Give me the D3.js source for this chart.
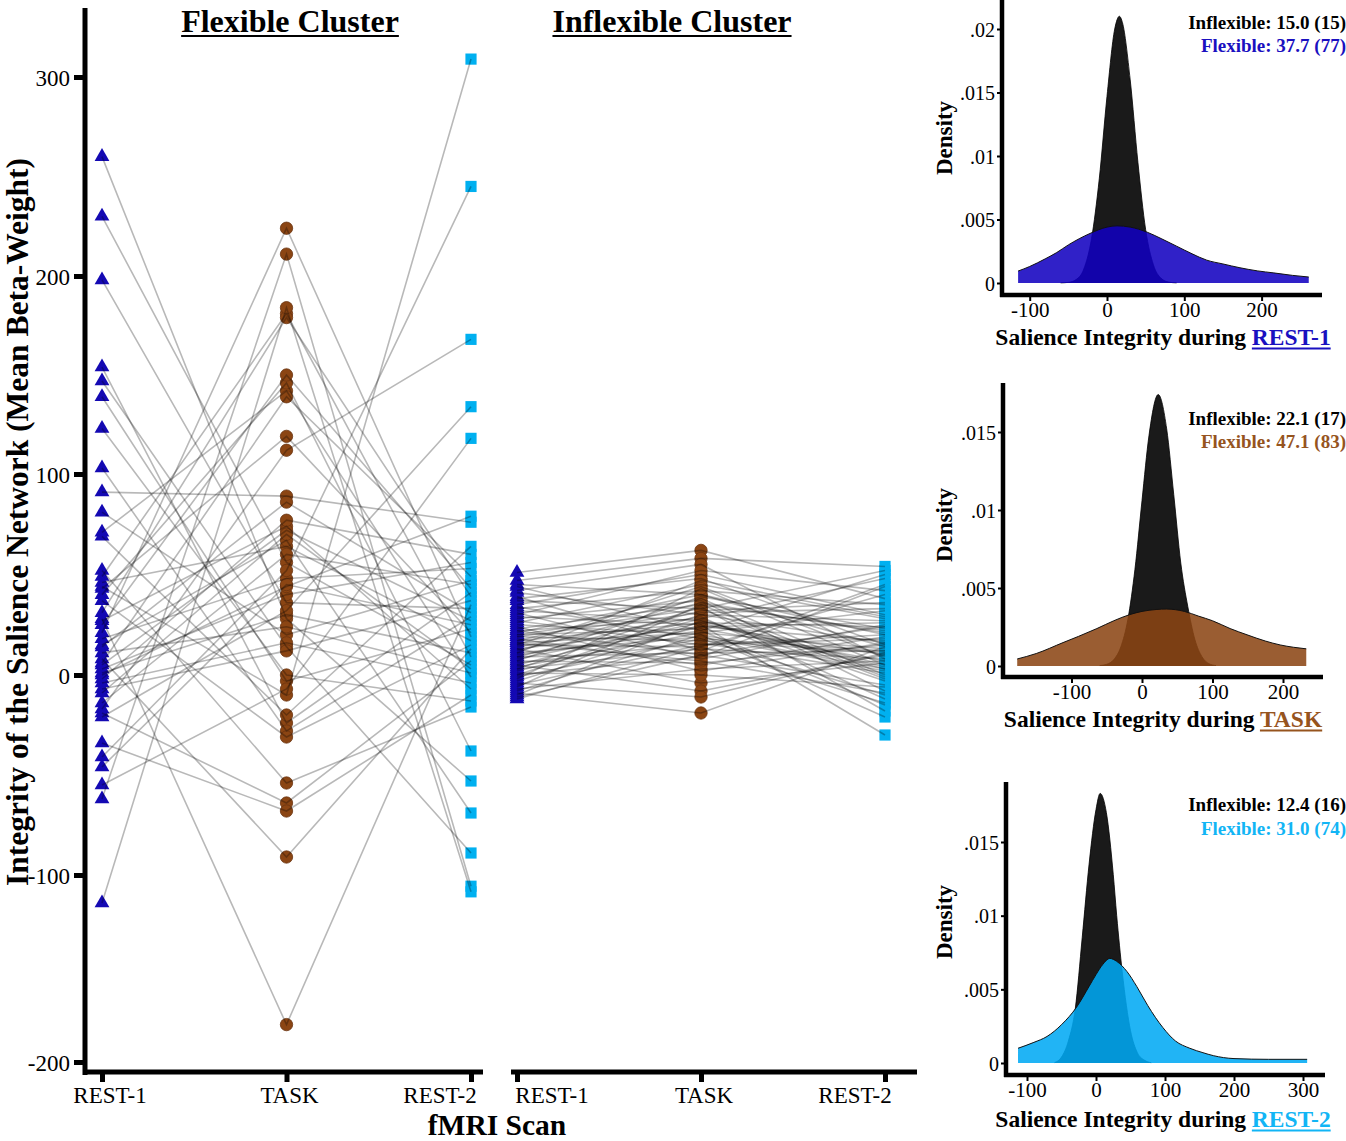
<!DOCTYPE html>
<html><head><meta charset="utf-8">
<script src="https://cdn.jsdelivr.net/npm/d3@7"></script>
<style>
body{margin:0;background:#fff;}
svg{display:block;font-family:"Liberation Serif","Times New Roman",serif;}
</style></head><body>
<svg id="chart" width="1346" height="1141"></svg>
<script>
// ---------------- DATA ----------------
const scans = ["REST-1", "TASK", "REST-2"];
const yTicks = [-200, -100, 0, 100, 200, 300];
const clusterTitles = ["Flexible Cluster", "Inflexible Cluster"];

// Flexible cluster, one entry per subject
const flexRest1 = [260,230,198,154,147,139,123,103,91,81,71,69,52,49,46,44,43,40,37,31,28,27,25,21,18,15,14,11,8,6,5,3,1,0,-2,-4,-7,-9,-14,-17,-19,-21,-34,-41,-46,-55,-62,-115];
const flexTask  = [28,56,36,-24,14,-3,0,-28,89,20,142,-20,-54,181,64,-10,119,146,-31,179,-180,74,150,224,48,67,86,24,-91,139,72,40,30,44,77,16,12,70,60,112,-64,32,-68,52,45,-7,211,184];
const flexRest2 = [-53,5,33,41,-89,23,-13,29,76,47,-1,64,-16,9,17,309,21,-38,15,39,35,-7,43,19,53,-69,31,1,13,49,27,56,11,79,60,-4,37,3,45,168,7,134,-10,245,25,118,-106,-109];

// Inflexible cluster, one entry per subject
const inflexRest1 = [51,47,45,44,42,41,39,38,37,35,34,33,32,31,30,29,28,27,26,25,24,23,22,22,21,20,19,19,18,17,17,16,15,15,14,13,13,12,11,11,10,9,9,8,7,7,6,5,5,4,3,3,2,1,0,0,-1,-2,-3,-4,-5,-6,-7,-8,-9,-10,-11,-12,20,16];
const inflexTask  = [62,58,40,22,55,30,12,48,33,50,18,42,27,8,52,25,37,15,45,20,2,35,28,10,40,23,31,17,5,38,26,21,44,14,29,24,-4,36,19,47,22,11,32,26,6,39,16,28,-8,21,34,13,24,0,30,9,18,43,25,-11,15,35,3,20,-19,27,10,14,33,7];
const inflexRest2 = [38,54,20,50,8,27,45,15,-2,30,12,35,5,25,42,10,-8,18,28,3,16,22,48,-5,14,7,33,11,19,0,24,13,9,40,-12,17,6,21,2,29,-15,12,36,4,15,23,1,-3,10,32,-18,8,26,-6,16,44,-10,5,-30,11,20,-1,7,-21,14,3,24,-14,52,-9];

// Density panels (x value, density)
const densXTicks = [[-100,0,100,200],[-100,0,100,200],[-100,0,100,200,300]];
const densYTicks = [[0,0.005,0.01,0.015,0.02],[0,0.005,0.01,0.015],[0,0.005,0.01,0.015]];
const densFlexX = [
  [-115,-100,-80,-65,-50,-22,0,13,30,52,70,90,110,129,150,172,195,215,240,261],
  [-177,-150,-112,-90,-64,-40,-17,0,20,35,60,80,100,125,149,175,196,215,233],
  [-113,-90,-71,-50,-28,-10,0,10,20,30,45,59,75,97,115,136,155,170,200,250,306]
];
const densFlexY = [
  [0.00094,0.0013,0.0019,0.0024,0.003,0.0039,0.0044,0.0045,0.0044,0.0040,0.0035,0.0029,0.0023,0.0018,0.0015,0.0012,0.00095,0.0008,0.0006,0.00047],
  [0.00045,0.0008,0.0015,0.0019,0.0024,0.0029,0.0033,0.0035,0.00362,0.00365,0.0035,0.0032,0.0029,0.0024,0.0020,0.0016,0.00135,0.0012,0.0011],
  [0.001,0.0014,0.0018,0.0026,0.0038,0.0052,0.006,0.0067,0.0071,0.0069,0.0062,0.0052,0.0039,0.0024,0.0015,0.001,0.0007,0.0005,0.0003,0.00025,0.00025]
];
const densInfX = [
  [-60,-50,-40,-30,-20,-10,0,10,16,20,30,40,50,60,70,80,90],
  [-60,-50,-40,-30,-20,-10,0,10,23,35,45,55,65,75,85,95,105],
  [-60,-50,-40,-30,-20,-10,0,6,15,25,30,38,50,60,70,80]
];
const densInfY = [
  [0.00001,0.00005,0.00027,0.0011,0.0035,0.0082,0.0147,0.0200,0.0210,0.0205,0.0160,0.0095,0.0042,0.00144,0.00037,0.00007,0.00001],
  [0.00003,0.00011,0.00041,0.00123,0.0030,0.0062,0.0106,0.0148,0.0174,0.0152,0.0110,0.0066,0.0038,0.0017,0.0006,0.00015,0.00003],
  [0.00003,0.0004,0.0015,0.0037,0.0085,0.0135,0.0172,0.0183,0.0170,0.0128,0.0100,0.0062,0.0022,0.0007,0.0002,0.00002]
];
const infMeans = [15.0, 22.1, 12.4];
const infSDs = [15, 17, 16];
const flexMeans = [37.7, 47.1, 31.0];
const flexSDs = [77, 83, 74];

// ---------------- STYLE ----------------
const pointColors = ["#1409b3", "#8B4513", "#00B0F0"];
const densColors = ["#1100c0", "#8B4513", "#00A9F4"];
const labelColors = ["#1a10c0", "#96541e", "#12b5f5"];

const svg = d3.select("#chart");
const serif = '"Liberation Serif","Times New Roman",serif';
const hyphenFmt = d => String(d);

// ---------------- MAIN PANELS ----------------
const y = d3.scaleLinear().domain(yTicks).range([1062, 875, 675, 474, 276, 77]);
const xFlex = d3.scalePoint().domain(scans).range([102, 471]);
const xInf = d3.scalePoint().domain(scans).range([517, 885]);

const symbols = [
  d3.symbol(d3.symbolTriangle, 95),
  d3.symbol(d3.symbolCircle, 120),
  d3.symbol(d3.symbolSquare, 125)
];

function drawPanel(x, cols) {
  const g = svg.append("g");
  cols.forEach((col, j) => {
    g.append("g").selectAll("path").data(col).join("path")
      .attr("transform", v => `translate(${x(scans[j])},${y(v)})`)
      .attr("d", symbols[j]())
      .attr("fill", pointColors[j])
      .attr("stroke", j === 1 ? "#6a3410" : "none")
      .attr("stroke-width", 0.8);
  });
  const subjects = d3.range(cols[0].length).map(i => cols.map((c, j) => ({scan: scans[j], v: c[i]})));
  const line = d3.line().x(d => x(d.scan)).y(d => y(d.v));
  g.append("g").selectAll("path").data(subjects).join("path")
    .attr("d", line)
    .attr("fill", "none")
    .attr("stroke", "#000")
    .attr("stroke-opacity", 0.28)
    .attr("stroke-width", 1.6);
}
drawPanel(xFlex, [flexRest1, flexTask, flexRest2]);
drawPanel(xInf, [inflexRest1, inflexTask, inflexRest2]);

// y axis (left panel)
const yAxis = svg.append("g").attr("transform", "translate(85,0)")
  .call(d3.axisLeft(y).tickValues(yTicks).tickSize(11).tickPadding(4).tickFormat(hyphenFmt));
yAxis.select(".domain").remove();
yAxis.selectAll(".tick line").attr("stroke", "#000").attr("stroke-width", 5);
yAxis.selectAll(".tick text").attr("font-family", serif).attr("font-size", 23).attr("fill", "#000").attr("dy", "0.36em");
svg.append("line").attr("x1", 85).attr("x2", 85).attr("y1", 8).attr("y2", 1075).attr("stroke", "#000").attr("stroke-width", 5);

// x axes
const xLabelOffsets = [[8, 3, -31], [35, 3, -30]];
[[xFlex, 83, 483], [xInf, 511, 917]].forEach(([x, x0, x1], p) => {
  const ax = svg.append("g").attr("transform", "translate(0,1072)")
    .call(d3.axisBottom(x).tickSize(10).tickFormat(""));
  ax.select(".domain").remove();
  ax.selectAll(".tick line").attr("stroke", "#000").attr("stroke-width", 5);
  svg.append("line").attr("x1", x0).attr("x2", x1).attr("y1", 1072).attr("y2", 1072).attr("stroke", "#000").attr("stroke-width", 5);
  svg.append("g").selectAll("text").data(scans).join("text")
    .attr("x", (d, i) => x(d) + xLabelOffsets[p][i])
    .attr("y", 1103)
    .attr("text-anchor", "middle")
    .attr("font-family", serif).attr("font-size", 23)
    .text(d => d);
});

// cluster titles (underlined)
function underlinedText(x, yPos, txt, size, anchor) {
  const t = svg.append("text").attr("x", x).attr("y", yPos)
    .attr("text-anchor", anchor).attr("font-family", serif)
    .attr("font-weight", "bold").attr("font-size", size).text(txt);
  const w = t.node().getComputedTextLength();
  const xs = anchor === "middle" ? x - w / 2 : x;
  svg.append("line").attr("x1", xs).attr("x2", xs + w).attr("y1", yPos + 4).attr("y2", yPos + 4)
    .attr("stroke", "#000").attr("stroke-width", 2.2);
}
underlinedText(290, 32, clusterTitles[0], 32, "middle");
underlinedText(672, 32, clusterTitles[1], 32, "middle");

// axis titles
svg.append("text").attr("transform", "translate(28,522) rotate(-90)")
  .attr("text-anchor", "middle").attr("font-family", serif).attr("font-weight", "bold").attr("font-size", 31.5)
  .text("Integrity of the Salience Network (Mean Beta-Weight)");
svg.append("text").attr("x", 497).attr("y", 1135)
  .attr("text-anchor", "middle").attr("font-family", serif).attr("font-weight", "bold").attr("font-size", 29.5)
  .text("fMRI Scan");

// ---------------- DENSITY PANELS ----------------
const densLayout = [
  {xd: [-100, 200], xr: [1029.7, 1261.6], yd: [0, 0.02], yr: [283, 29], ax: 1002, top: 0, bot: 295, right: 1322, stat: [29, 52], title: 345, dens: 138},
  {xd: [-100, 200], xr: [1071.5, 1283], yd: [0, 0.015], yr: [666, 432], ax: 1003, top: 383, bot: 677, right: 1323, stat: [425, 448], title: 727, dens: 525},
  {xd: [-100, 300], xr: [1027, 1303], yd: [0, 0.015], yr: [1063, 842], ax: 1006, top: 782, bot: 1075, right: 1325, stat: [811, 835], title: 1127, dens: 922}
];
const fmtDens = v => v === 0 ? "0" : d3.format(".3~f")(v).replace(/^0/, "");

densLayout.forEach((L, p) => {
  const x = d3.scaleLinear().domain(L.xd).range(L.xr);
  const yy = d3.scaleLinear().domain(L.yd).range(L.yr);
  const g = svg.append("g");
  const area = d3.area().curve(d3.curveMonotoneX).x(d => x(d[0])).y0(yy(0)).y1(d => yy(d[1]));
  const lineTop = d3.line().curve(d3.curveMonotoneX).x(d => x(d[0])).y(d => yy(d[1]));
  const inf = d3.zip(densInfX[p], densInfY[p]);
  const flex = d3.zip(densFlexX[p], densFlexY[p]);
  g.append("path").datum(inf).attr("d", area).attr("fill", "#1a1a1a");
  g.append("path").datum(inf).attr("d", lineTop).attr("fill", "none").attr("stroke", "#000").attr("stroke-width", 0.8);
  g.append("path").datum(flex).attr("d", area).attr("fill", densColors[p]).attr("fill-opacity", 0.87);
  g.append("path").datum(flex).attr("d", lineTop).attr("fill", "none").attr("stroke", "#111").attr("stroke-width", 1);

  // axes
  const ya = svg.append("g").attr("transform", `translate(${L.ax},0)`)
    .call(d3.axisLeft(yy).tickValues(densYTicks[p]).tickSize(5).tickPadding(2).tickFormat(fmtDens));
  ya.select(".domain").remove();
  ya.selectAll(".tick line").attr("stroke", "#000").attr("stroke-width", 2);
  ya.selectAll(".tick text").attr("font-family", serif).attr("font-size", 20).attr("fill", "#000").attr("dy", "0.36em");
  const xa = svg.append("g").attr("transform", `translate(0,${L.bot})`)
    .call(d3.axisBottom(x).tickValues(densXTicks[p]).tickSize(6).tickPadding(2).tickFormat(hyphenFmt));
  xa.select(".domain").remove();
  xa.selectAll(".tick line").attr("stroke", "#000").attr("stroke-width", 2);
  xa.selectAll(".tick text").attr("font-family", serif).attr("font-size", 21).attr("fill", "#000")
    .attr("y", 0).attr("dy", 0).attr("transform", "translate(0,22)");
  svg.append("line").attr("x1", L.ax).attr("x2", L.ax).attr("y1", L.top).attr("y2", L.bot + 2).attr("stroke", "#000").attr("stroke-width", 4.5);
  svg.append("line").attr("x1", L.ax - 2).attr("x2", L.right).attr("y1", L.bot).attr("y2", L.bot).attr("stroke", "#000").attr("stroke-width", 4.5);

  // Density label
  svg.append("text").attr("transform", `translate(952,${L.dens}) rotate(-90)`)
    .attr("text-anchor", "middle").attr("font-family", serif).attr("font-weight", "bold").attr("font-size", 23)
    .text("Density");

  // stats
  svg.append("text").attr("x", 1346).attr("y", L.stat[0]).attr("text-anchor", "end")
    .attr("font-family", serif).attr("font-weight", "bold").attr("font-size", 19).attr("fill", "#000")
    .text(`Inflexible: ${infMeans[p].toFixed(1)} (${infSDs[p]})`);
  svg.append("text").attr("x", 1346).attr("y", L.stat[1]).attr("text-anchor", "end")
    .attr("font-family", serif).attr("font-weight", "bold").attr("font-size", 19).attr("fill", labelColors[p])
    .text(`Flexible: ${flexMeans[p].toFixed(1)} (${flexSDs[p]})`);

  // x title with coloured, underlined scan name
  const t = svg.append("text").attr("x", 1163).attr("y", L.title).attr("text-anchor", "middle")
    .attr("font-family", serif).attr("font-weight", "bold").attr("font-size", 23.5);
  const prefix = "Salience Integrity during ";
  t.append("tspan").text(prefix);
  t.append("tspan").attr("fill", labelColors[p]).text(scans[p]);
  const total = t.node().getComputedTextLength();
  const pre = t.node().getSubStringLength(0, prefix.length);
  const xs = 1163 - total / 2 + pre;
  svg.append("line").attr("x1", xs).attr("x2", 1163 + total / 2).attr("y1", L.title + 3.5).attr("y2", L.title + 3.5)
    .attr("stroke", labelColors[p]).attr("stroke-width", 2);
});
</script>
</body></html>
